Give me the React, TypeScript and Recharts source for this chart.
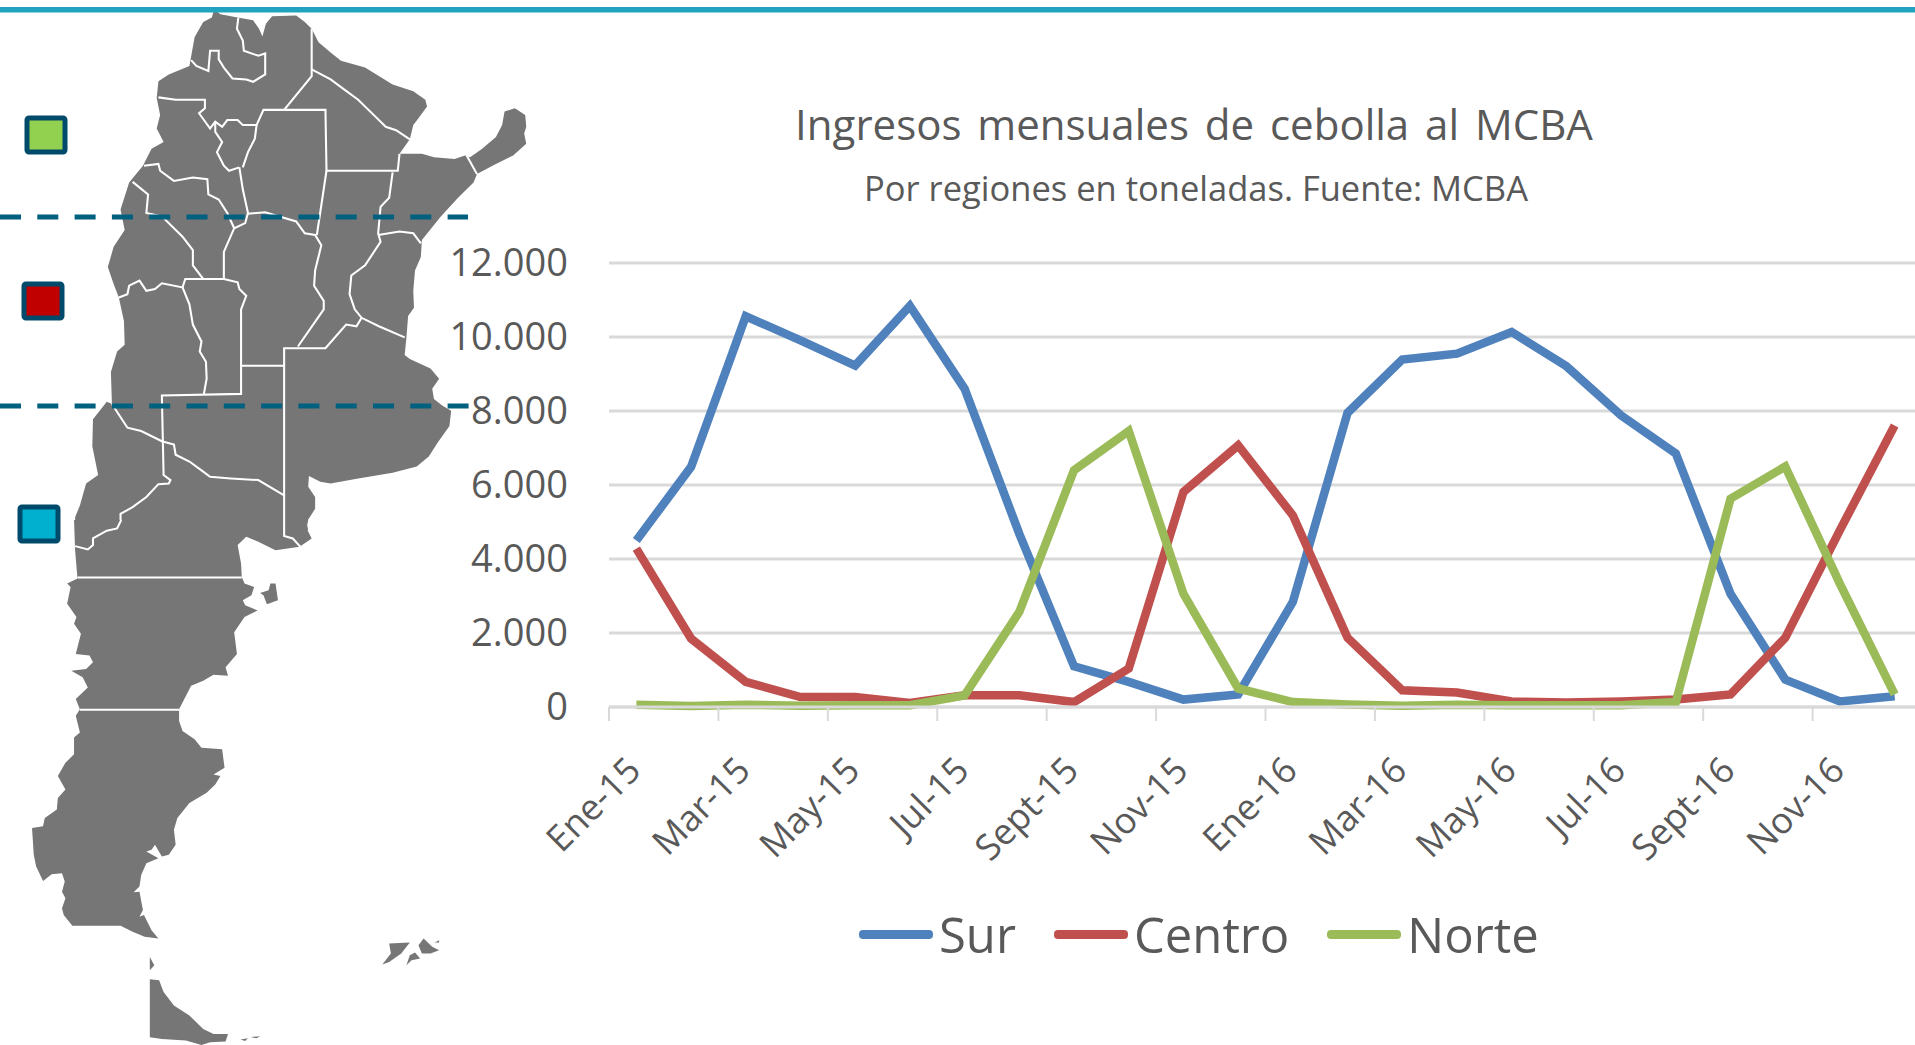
import { CartesianGrid, Legend, Line, LineChart, XAxis, YAxis } from 'recharts'

const MONTHS = [
  'Ene-15', 'Feb-15', 'Mar-15', 'Abr-15', 'May-15', 'Jun-15', 'Jul-15', 'Ago-15', 'Sept-15', 'Oct-15', 'Nov-15', 'Dic-15',
  'Ene-16', 'Feb-16', 'Mar-16', 'Abr-16', 'May-16', 'Jun-16', 'Jul-16', 'Ago-16', 'Sept-16', 'Oct-16', 'Nov-16', 'Dic-16',
]
const SUR = [4500, 6490, 10560, 9910, 9230, 10840, 8600, 4680, 1100, 680, 200, 340, 2840, 7950, 9390, 9550, 10135, 9210, 7880, 6850, 3060, 740, 150, 290]
const CENTRO = [4280, 1850, 680, 270, 270, 110, 315, 315, 135, 1040, 5810, 7070, 5180, 1870, 450, 390, 150, 125, 150, 200, 340, 1870, 4780, 7610]
const NORTE = [60, 25, 60, 35, 50, 50, 315, 2570, 6400, 7460, 3060, 500, 135, 70, 35, 60, 45, 45, 50, 135, 5630, 6500, 3330, 340]
const Y_TICKS = [0, 2000, 4000, 6000, 8000, 10000, 12000]

const TEXT = '#595959'
const GRID = '#D9D9D9'
const FONT = '"Open Sans", sans-serif'
const HALF_STEP = 27.35

const rows = MONTHS.map((mes, i) => ({ mes, Sur: SUR[i], Centro: CENTRO[i], Norte: NORTE[i] }))

const NORTH_SHAPE = '622,28 640,42 690,52 735,60 752,85 762,108 772,70 790,48 860,46 885,65 905,85 925,125 960,155 990,180 1060,200 1100,225 1140,250 1200,270 1235,295 1240,315 1215,350 1200,370 1190,412 1160,455 1225,455 1260,465 1320,470 1350,460 1365,465 1400,440 1440,405 1458,370 1465,330 1495,320 1525,340 1528,375 1522,395 1528,425 1490,460 1430,490 1385,515 1375,540 1330,585 1280,640 1225,710 1222,760 1205,800 1200,860 1202,910 1185,935 1180,1000 1175,1050 1190,1062 1250,1090 1275,1120 1255,1150 1260,1180 1285,1200 1310,1215 1305,1260 1270,1310 1245,1350 1210,1380 1140,1398 1040,1415 960,1430 930,1425 897,1408 895,1440 915,1470 915,1505 890,1545 895,1568 220,1568 218,1530 232,1495 250,1430 285,1405 268,1320 270,1240 310,1188 325,1195 322,1100 340,1040 362,1020 360,950 345,880 330,840 313,790 330,730 362,680 350,620 375,540 415,490 440,440 475,420 455,380 465,340 455,290 460,240 490,220 550,195 565,110 590,65 615,52'
const NORTH_BORDERS = [
  '692,52 688,85 705,120 708,150 750,165 770,158 770,220 735,242 715,235 675,232 650,200 635,175 635,150 610,150 605,210 570,195 555,178',
  '905,85 905,225 825,325',
  '905,205 960,235 1000,265 1040,295 1090,345 1120,375 1150,385 1190,412',
  '460,288 510,295 595,295 595,320 578,335 610,380 625,360 645,375 660,355 690,355 705,370 745,370 765,325 945,325 948,505 1155,505 1160,455',
  '948,505 920,695',
  '1140,510 1130,585 1105,612 1098,690 1105,715 1060,785 1020,815 1015,870 1030,915 1050,940 1100,965 1175,998',
  '1098,695 1160,685 1200,690 1222,720',
  '1355,460 1385,515',
  '625,360 625,390 645,420 630,450 650,490 665,505 695,495',
  '745,370 740,410 720,450 705,495',
  '418,490 460,485 465,505 505,535 560,525 602,530 605,575 635,590 660,630 680,675',
  '695,495 705,560 720,630 712,660 680,675 650,745 650,825',
  '720,632 770,628 860,655 885,690 915,695 933,725 915,800 912,845 940,890 940,915 865,1025',
  '385,538 430,575 425,630 470,640 530,700 560,740 560,785 590,825',
  '345,880 370,870 375,845 405,830 425,860 450,855 470,838 530,850 538,825 650,825 690,835 695,855 715,875 700,915 700,1165 470,1170 475,1405 495,1420 490,1430 460,1432 425,1470 385,1500 350,1520 350,1545',
  '530,850 550,900 560,960 585,1010 580,1040 598,1070 600,1120 592,1165',
  '700,1082 825,1082',
  '825,1568 825,1030 945,1030 1005,960 1035,965 1050,940',
  '325,1195 370,1265 410,1275 470,1305 505,1315 510,1345 550,1365 590,1395 610,1410 670,1415 750,1420 825,1465',
]
const SOUTH_SHAPES = [
  '215,0 895,0 890,25 905,55 870,80 800,90 750,65 715,50 690,75 700,130 702,170 710,190 738,200 730,225 705,240 712,255 748,270 710,290 680,335 688,400 655,440 662,465 620,462 590,480 555,495 520,565 520,600 530,630 565,655 585,680 645,685 652,740 620,760 640,765 625,790 600,815 550,845 515,890 505,925 510,970 490,1000 470,1005 450,970 440,985 425,990 460,1010 425,1025 410,1060 405,1095 388,1112 405,1110 415,1165 405,1185 418,1180 440,1225 460,1250 420,1245 385,1230 350,1212 210,1212 185,1180 180,1160 190,1130 180,1110 188,1080 180,1055 150,1058 125,1078 105,1035 98,1000 93,920 125,915 130,890 165,865 168,830 190,805 168,765 190,725 215,700 215,650 232,635 220,585 232,565 220,535 255,500 240,470 207,450 250,445 270,425 260,405 220,400 235,340 215,310 222,290 195,250 205,200 195,190 225,175 218,90',
  '785,190 800,190 807,240 775,252 765,225 755,218 780,210',
  '435,1305 448,1330 435,1345',
  '435,1372 462,1375 475,1410 505,1450 550,1480 590,1520 620,1535 662,1535 655,1558 610,1560 585,1568 540,1555 470,1550 435,1545',
  '1110,1328 1135,1295 1130,1265 1190,1262 1165,1295 1130,1320',
  '1215,1270 1230,1250 1255,1275 1275,1285 1250,1295 1225,1295',
  '1180,1330 1190,1300 1205,1292 1220,1310 1195,1315',
  '1262,1262 1275,1255 1275,1262',
  '698,1552 720,1548 712,1556',
  '728,1544 755,1542 745,1548',
]
const SOUTH_BORDERS = [
  '225,172 702,172',
  '232,567 520,567',
  '218,78 255,88 270,75 270,55 310,32 340,25 352,0',
  '825,0 825,48 850,55 872,80',
]

function MapBackdrop() {
  return (
    <svg width={1915} height={1045} style={{ position: 'absolute', left: 0, top: 0 }}>
      <g transform="scale(0.3444 0.3381)">
        <polygon points={NORTH_SHAPE} fill="#767676" />
        {NORTH_BORDERS.map(b => <polyline key={b} points={b} fill="none" stroke="#fff" strokeWidth={6} />)}
      </g>
      <g transform="translate(0 520) scale(0.3444 0.3348)">
        {SOUTH_SHAPES.map(s => <polygon key={s} points={s} fill="#767676" />)}
        {SOUTH_BORDERS.map(b => <polyline key={b} points={b} fill="none" stroke="#fff" strokeWidth={6} />)}
      </g>

      <rect x={0} y={7} width={1915} height={5.5} fill="#21A3C0" />
      <line x1={0} y1={217} x2={468} y2={217} stroke="#00607F" strokeWidth={5} strokeDasharray="21 16.3" />
      <line x1={0} y1={406} x2={470} y2={406} stroke="#00607F" strokeWidth={5} strokeDasharray="21 16.3" />

      <rect x={27} y={118} width={38} height={34} rx={2} fill="#92D050" stroke="#004A6B" strokeWidth={5} />
      <rect x={24} y={284} width={38} height={34} rx={2} fill="#C00000" stroke="#004A6B" strokeWidth={5} />
      <rect x={20} y={507} width={38} height={34} rx={2} fill="#00B0CE" stroke="#004A6B" strokeWidth={5} />

      <text x={1194} y={123} textAnchor="middle" dominantBaseline="central" fontFamily={FONT} fontSize={42} fill={TEXT} style={{ wordSpacing: 5 }}>
        Ingresos mensuales de cebolla al MCBA
      </text>
      <text x={1196} y={187} textAnchor="middle" dominantBaseline="central" fontFamily={FONT} fontSize={34.5} fill={TEXT}>
        Por regiones en toneladas. Fuente: MCBA
      </text>
    </svg>
  )
}

const MonthTick = ({ x, y, payload }: any) => (
  <g>
    <line x1={x - HALF_STEP} y1={y - 8} x2={x - HALF_STEP} y2={y + 6} stroke={GRID} strokeWidth={2} />
    <text
      transform={`translate(${x - 3} ${y + 48}) rotate(-45)`}
      textAnchor="end"
      dominantBaseline="central"
      fontFamily={FONT}
      fontSize={36}
      fill={TEXT}
    >
      {payload.value}
    </text>
  </g>
)

const LegendRow = ({ payload }: any) => (
  <div style={{ display: 'flex', alignItems: 'center', fontFamily: FONT, fontSize: 49, lineHeight: '60px', color: TEXT }}>
    {(payload ?? []).map((p: any) => (
      <div key={p.value} style={{ display: 'flex', alignItems: 'center', marginRight: 38 }}>
        <span style={{ width: 74, height: 9, borderRadius: 4, background: p.color, marginRight: 6 }} />
        {p.value}
      </div>
    ))}
  </div>
)

export default function App() {
  return (
    <div style={{ position: 'absolute', left: 0, top: 0, width: 1915, height: 1045, overflow: 'hidden', background: '#fff' }}>
      <MapBackdrop />
      <div style={{ position: 'absolute', left: 0, top: 0 }}>
        <LineChart width={1922} height={1045} data={rows} margin={{ top: 263, right: 0, left: 0, bottom: 98 }}>
          <CartesianGrid vertical={false} stroke={GRID} strokeWidth={3} />
          <XAxis
            dataKey="mes"
            interval={1}
            height={180}
            padding={{ left: HALF_STEP, right: HALF_STEP }}
            axisLine={{ stroke: GRID, strokeWidth: 3 }}
            tickLine={false}
            tick={<MonthTick />}
          />
          <YAxis
            width={609}
            domain={[0, 12000]}
            ticks={Y_TICKS}
            axisLine={false}
            tickLine={false}
            tickSize={0}
            tickMargin={41}
            tick={{ fill: TEXT, fontSize: 38, fontFamily: FONT }}
            tickFormatter={v => v.toLocaleString('es-AR')}
          />
          <Legend
            content={<LegendRow />}
            height={60}
            verticalAlign="bottom"
            itemSorter={null}
            wrapperStyle={{ left: 859, top: 904, width: 760 }}
          />
          <Line dataKey="Sur" stroke="#4F81BD" strokeWidth={8.5} dot={false} isAnimationActive={false} />
          <Line dataKey="Centro" stroke="#C0504D" strokeWidth={8.5} dot={false} isAnimationActive={false} />
          <Line dataKey="Norte" stroke="#9BBB59" strokeWidth={8.5} dot={false} isAnimationActive={false} />
        </LineChart>
      </div>
    </div>
  )
}
